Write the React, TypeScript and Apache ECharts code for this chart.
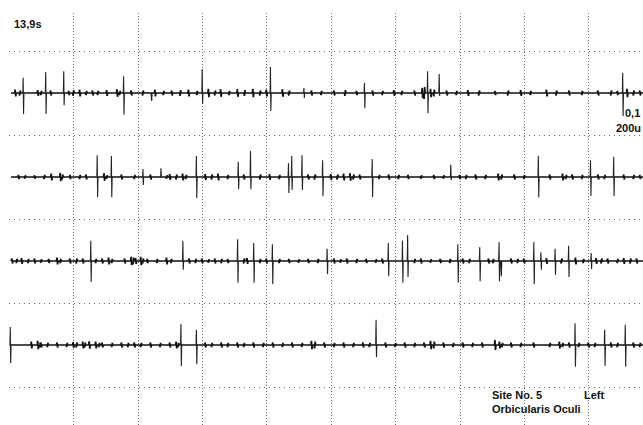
import React, { useEffect, useRef } from "react";
import * as echarts from "echarts";

// ---- labels ----
const TIME_LABEL = "13,9s";
const GAIN_LABEL = "0,1";
const SWEEP_LABEL = "200u";
const SITE_LABEL = "Site No. 5";
const SIDE_LABEL = "Left";
const MUSCLE_LABEL = "Orbicularis Oculi";

// ---- scale: one row (division) = 200 µV, time axis in divisions ----
const UV_PER_ROW = 200;
const ROW_LINES = [0, 1, 2, 3, 4];
const X_MAX = 9.845;

// spikes: [time (div), up µV, down µV]
const trace1Spikes = [[0.22,36,50],[0.57,50,50],[0.85,52,29],[1.78,40,52],[2.21,0,19],[3.0,57,26],[4.06,62,43],[4.58,12,12],[5.52,24,36],[6.5,52,48],[6.68,45,7],[9.53,48,55]];
const trace2Spikes = [[1.37,52,48],[1.59,50,48],[2.08,19,19],[2.36,21,0],[2.91,50,50],[3.56,36,29],[3.75,62,29],[4.34,33,38],[4.39,50,31],[4.55,52,31],[4.87,40,45],[5.64,43,48],[6.86,29,7],[8.22,50,48],[9.03,40,45],[9.39,48,45]];
const trace3Spikes = [[1.27,48,50],[2.7,48,21],[3.55,52,52],[3.8,43,52],[4.09,40,55],[4.94,29,31],[5.89,43,36],[6.11,48,52],[6.19,62,38],[6.97,40,52],[7.31,33,48],[7.61,45,48],[7.64,0,36],[8.15,45,55],[8.26,21,21],[8.48,29,33],[8.69,36,38],[9.04,19,19]];
const trace4Spikes = [[0.02,43,43],[2.67,50,50],[2.91,36,45],[5.7,60,29],[8.79,52,52],[9.25,36,50],[9.57,48,52]];

// small baseline deflections: [time (div), µV]
const trace1Wiggles = [[0.10,8],[0.17,-6],[0.45,7],[0.50,-5],[0.65,6],[0.93,5],[1.00,-7],[1.10,8],[1.20,-5],[1.30,6],[1.38,-5],[1.52,7],[1.68,9],[1.72,-5],[1.90,6],[2.08,-6],[2.27,8],[2.40,-5],[2.53,6],[2.66,-7],[2.79,8],[2.92,-5],[3.10,10],[3.20,-6],[3.29,9],[3.42,-5],[3.55,9],[3.66,-7],[3.79,10],[3.90,-6],[4.00,8],[4.25,9],[4.35,-6],[4.70,6],[4.85,-5],[5.05,6],[5.22,-7],[5.40,5],[5.65,6],[5.80,-5],[5.98,7],[6.10,-5],[6.30,6],[6.42,12],[6.45,-14],[6.55,10],[6.60,-8],[6.80,6],[6.95,-5],[7.13,7],[7.30,-6],[7.55,5],[7.75,-6],[7.95,7],[8.10,-5],[8.35,8],[8.50,-6],[8.70,6],[8.90,-5],[9.15,6],[9.35,-6],[9.45,5],[9.60,10],[9.70,-6],[9.80,6]];
const trace2Wiggles = [[0.15,5],[0.25,-4],[0.40,4],[0.55,-5],[0.66,8],[0.80,10],[0.83,-6],[0.95,5],[1.10,-5],[1.20,6],[1.48,9],[1.52,-4],[1.75,6],[1.95,-5],[2.20,6],[2.45,-4],[2.50,7],[2.60,-6],[2.70,8],[2.75,-5],[3.05,7],[3.15,-6],[3.25,8],[3.40,-5],[3.65,6],[3.90,-6],[4.05,7],[4.20,-5],[4.65,6],[4.75,-6],[5.00,7],[5.10,-6],[5.20,8],[5.30,9],[5.35,-6],[5.45,6],[5.75,-5],[5.90,6],[6.05,-5],[6.20,5],[6.40,-4],[6.60,5],[6.75,-4],[7.00,5],[7.10,-5],[7.25,6],[7.40,-5],[7.60,8],[7.65,-6],[7.85,6],[8.00,-5],[8.40,6],[8.60,8],[8.65,-5],[8.75,6],[8.90,-5],[9.15,6],[9.25,-5],[9.55,6],[9.70,-5],[9.80,5]];
const trace3Wiggles = [[0.05,6],[0.12,-5],[0.20,7],[0.30,-5],[0.40,6],[0.50,-4],[0.62,5],[0.75,8],[0.80,-5],[0.95,6],[1.05,-6],[1.15,6],[1.35,-5],[1.45,6],[1.55,8],[1.60,-5],[1.80,6],[1.90,10],[1.93,-8],[1.97,7],[2.05,10],[2.08,-6],[2.15,5],[2.30,-5],[2.45,8],[2.52,-5],[2.80,6],[2.90,-5],[3.00,6],[3.10,-4],[3.20,6],[3.30,-5],[3.40,5],[3.65,-6],[3.70,7],[3.90,-5],[4.00,6],[4.20,-5],[4.35,5],[4.50,-4],[4.65,5],[4.80,-5],[5.05,6],[5.15,-4],[5.25,6],[5.40,-5],[5.55,5],[5.70,-4],[5.80,6],[6.30,-5],[6.40,6],[6.55,-4],[6.70,5],[6.85,-5],[7.05,6],[7.15,-5],[7.45,6],[7.52,-5],[7.80,6],[7.90,-5],[8.00,6],[8.35,7],[8.58,-6],[8.80,8],[8.92,-5],[9.12,7],[9.20,-6],[9.30,6],[9.45,-5],[9.55,7],[9.65,-6],[9.75,6]];
const trace4Wiggles = [[0.35,8],[0.45,10],[0.48,-6],[0.50,6],[0.60,-5],[0.75,6],[0.90,-5],[1.00,7],[1.05,-6],[1.15,8],[1.18,-6],[1.25,9],[1.35,8],[1.40,-5],[1.45,6],[1.60,-5],[1.75,6],[1.85,-5],[1.95,6],[2.05,-5],[2.20,6],[2.35,-5],[2.50,6],[2.60,8],[2.63,-5],[3.05,6],[3.15,-5],[3.30,6],[3.40,-5],[3.55,6],[3.65,-5],[3.80,6],[3.95,-5],[4.10,6],[4.25,-5],[4.40,6],[4.55,-5],[4.70,10],[4.75,-8],[4.90,6],[5.05,-5],[5.20,6],[5.35,-5],[5.50,6],[5.60,-5],[5.85,6],[6.00,-5],[6.15,6],[6.30,-5],[6.45,6],[6.55,10],[6.60,-8],[6.75,6],[6.90,-5],[7.05,6],[7.20,-5],[7.35,6],[7.55,12],[7.62,8],[7.66,-5],[7.80,6],[7.95,-5],[8.15,6],[8.40,-5],[8.55,8],[8.60,-5],[8.70,6],[8.85,-5],[9.00,6],[9.10,-5],[9.35,6],[9.45,-5],[9.70,6],[9.80,-5]];

const TRACES = [
  { row: 0, start: 0.03, spikes: trace1Spikes, wiggles: trace1Wiggles },
  { row: 1, start: 0.03, spikes: trace2Spikes, wiggles: trace2Wiggles },
  { row: 2, start: 0.03, spikes: trace3Spikes, wiggles: trace3Wiggles },
  { row: 3, start: 0.01, spikes: trace4Spikes, wiggles: trace4Wiggles },
];

function toY(row: number, uv: number) {
  return row + 0.5 - uv / UV_PER_ROW;
}

// continuous baseline with the small deflections
function buildBaseline(t: any) {
  const data: number[][] = [[t.start, toY(t.row, 0)]];
  const w = [...t.wiggles].sort((a: number[], b: number[]) => a[0] - b[0]);
  w.forEach(([x, v]: number[]) => {
    data.push([x - 0.012, toY(t.row, 0)]);
    data.push([x - 0.004, toY(t.row, v)]);
    data.push([x + 0.004, toY(t.row, -v)]);
    data.push([x + 0.012, toY(t.row, 0)]);
  });
  data.push([X_MAX, toY(t.row, 0)]);
  return data;
}

// separate thin strokes for the spikes (broken by nulls between them)
function buildSpikes(t: any) {
  const data: any[] = [];
  t.spikes.forEach(([x, up, down]: number[]) => {
    data.push([x - 0.006, toY(t.row, 0)]);
    data.push([x, toY(t.row, up)]);
    data.push([x + 0.006, toY(t.row, -down)]);
    data.push([x + 0.012, toY(t.row, 0)]);
    data.push([x + 0.013, null]);
  });
  return data;
}

export default function App() {
  const ref = useRef<HTMLDivElement>(null);
  useEffect(() => {
    if (!ref.current) return;
    const chart = echarts.init(ref.current, undefined, { renderer: "svg" });
    const gridColor = "#6a6a6a";
    const textStyle = { fill: "#111", font: "bold 11px 'Liberation Sans', Arial, sans-serif" };
    const series: any[] = [];
    TRACES.forEach((t, i) => {
      series.push({
        type: "line",
        data: buildBaseline(t),
        showSymbol: false,
        symbol: "none",
        silent: true,
        lineStyle: { color: "#111", width: 1.7 },
        z: 3,
        markLine:
          i === 0
            ? {
                silent: true,
                symbol: "none",
                label: { show: false },
                lineStyle: { color: gridColor, type: [1, 4], width: 1 },
                data: ROW_LINES.map((v) => ({ yAxis: v })),
                z: 1,
              }
            : undefined,
      });
      series.push({
        type: "line",
        data: buildSpikes(t),
        connectNulls: false,
        showSymbol: false,
        symbol: "none",
        silent: true,
        lineStyle: { color: "#222", width: 1.1 },
        z: 4,
      });
    });
    chart.setOption({
      animation: false,
      backgroundColor: "#fff",
      grid: { left: 9, right: 0, top: 13, bottom: 0, containLabel: false },
      xAxis: {
        type: "value",
        min: 0,
        max: X_MAX,
        interval: 1,
        axisLine: { show: false },
        axisTick: { show: false },
        axisLabel: { show: false },
        splitLine: {
          show: true,
          showMinLine: false,
          showMaxLine: false,
          lineStyle: { color: gridColor, type: [1, 2], width: 1 },
        },
      },
      yAxis: {
        type: "value",
        inverse: true,
        min: -38 / 84,
        max: 374 / 84,
        axisLine: { show: false },
        axisTick: { show: false },
        axisLabel: { show: false },
        splitLine: { show: false },
      },
      graphic: [
        { type: "text", left: 14, top: 18, style: { text: TIME_LABEL, ...textStyle } },
        { type: "text", left: 625, top: 107, style: { text: GAIN_LABEL, ...textStyle } },
        { type: "text", left: 616, top: 122, style: { text: SWEEP_LABEL, ...textStyle } },
        { type: "text", left: 492, top: 389, style: { text: SITE_LABEL, ...textStyle } },
        { type: "text", left: 584, top: 389, style: { text: SIDE_LABEL, ...textStyle } },
        { type: "text", left: 492, top: 403, style: { text: MUSCLE_LABEL, ...textStyle } },
      ],
      series,
    });
    return () => chart.dispose();
  }, []);
  return (
    <div
      style={{ position: "fixed", left: 0, top: 0, width: 643, height: 425, background: "#fff" }}
    >
      <div ref={ref} style={{ width: 643, height: 425 }} />
    </div>
  );
}
